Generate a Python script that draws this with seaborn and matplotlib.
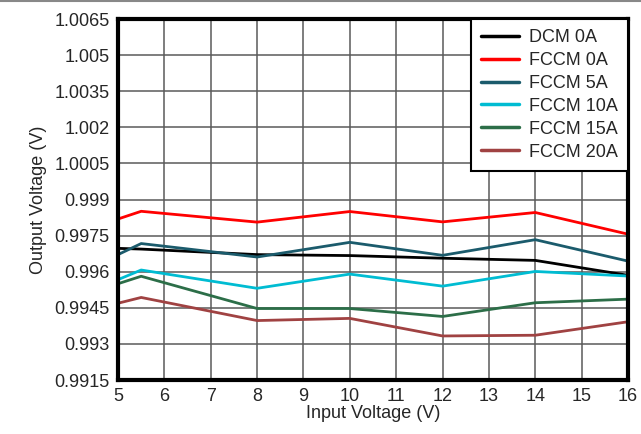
import numpy as np
import pandas as pd
import seaborn as sns
import matplotlib.pyplot as plt
from matplotlib.lines import Line2D

vin = [5, 5.5, 8, 10, 12, 14, 16]
dcm_0a = [0.99697, 0.99694, 0.99671, 0.99667, 0.99656, 0.99647, 0.99585]
fccm_0a = [0.99819, 0.99851, 0.99806, 0.99850, 0.99807, 0.99846, 0.99756]
fccm_5a = [0.99671, 0.99717, 0.99661, 0.99722, 0.99668, 0.99733, 0.99644]
fccm_10a = [0.99567, 0.99607, 0.99531, 0.99590, 0.99540, 0.99601, 0.99582]
fccm_15a = [0.99550, 0.99581, 0.99447, 0.99447, 0.99414, 0.99471, 0.99486]
fccm_20a = [0.99469, 0.99493, 0.99397, 0.99406, 0.99333, 0.99336, 0.99392]

names = ['DCM 0A', 'FCCM 0A', 'FCCM 5A', 'FCCM 10A', 'FCCM 15A', 'FCCM 20A']
colors = ['#000000', '#ff0000', '#1b5b6c', '#00bcd2', '#2c6e48', '#a04242']
yticks = [0.9915, 0.993, 0.9945, 0.996, 0.9975, 0.999, 1.0005, 1.002, 1.0035, 1.005, 1.0065]
ylabels = ['0.9915', '0.993', '0.9945', '0.996', '0.9975', '0.999', '1.0005', '1.002', '1.0035', '1.005', '1.0065']

series = [dcm_0a, fccm_0a, fccm_5a, fccm_10a, fccm_15a, fccm_20a]
df = pd.concat([pd.DataFrame({'vin': vin, 'vout': s, 'curve': n}) for n, s in zip(names, series)])

sns.set_style('white')
plt.rcParams['font.family'] = ['Liberation Sans', 'DejaVu Sans']

fig = plt.figure(figsize=(6.41, 4.34), dpi=100)
ax = fig.add_axes([118 / 641, 1 - 380 / 434, 510 / 641, 361 / 434])
sns.lineplot(data=df, x='vin', y='vout', hue='curve', hue_order=names,
             palette=colors, linewidth=2, ax=ax)

fs = 13
ax.set_xlim(5, 16)
ax.set_ylim(0.9915, 1.0065)
ax.set_xticks(range(5, 17))
ax.set_yticks(yticks)
ax.set_yticklabels(ylabels)
ax.grid(True, color='#5a5a5a', linewidth=1.1)
ax.set_axisbelow(True)
ax.tick_params(length=0, labelsize=fs, pad=6)
for sp in ax.spines.values():
    sp.set_linewidth(3)
    sp.set_color('black')
ax.set_xlabel('Input Voltage (V)', fontsize=fs, labelpad=0)
ax.set_ylabel('Output Voltage (V)', fontsize=fs, labelpad=5)

leg = ax.legend(loc='upper right', fontsize=fs, frameon=True, fancybox=False,
                borderaxespad=0, handlelength=2.1, labelspacing=0.33,
                borderpad=0.55, handletextpad=0.55)
leg.get_frame().set_edgecolor('black')
leg.get_frame().set_linewidth(1.5)
leg.get_frame().set_alpha(1)
for h in leg.get_lines():
    h.set_linewidth(2.5)

fig.add_artist(Line2D([0, 1], [0.998, 0.998], transform=fig.transFigure, color='#888888', linewidth=1.5))

fig.savefig('out.png', dpi=100)
